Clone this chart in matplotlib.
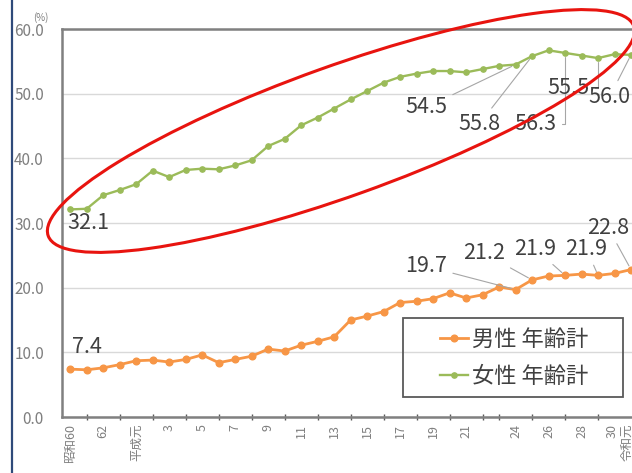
import matplotlib
matplotlib.use("Agg")
import matplotlib.pyplot as plt
from matplotlib.patches import Ellipse, Rectangle
from matplotlib.lines import Line2D
from matplotlib.transforms import IdentityTransform, ScaledTranslation

plt.rcParams['font.family'] = ['Noto Sans CJK JP', 'DejaVu Sans']

# 非正規雇用の割合 (%)、昭和60年〜令和元年
years = list(range(1985, 2020))
male = [7.4, 7.3, 7.6, 8.1, 8.7, 8.8, 8.5, 8.9, 9.6, 8.4,
        8.9, 9.4, 10.5, 10.2, 11.1, 11.7, 12.4, 15.0, 15.6, 16.3,
        17.7, 17.9, 18.3, 19.2, 18.4, 18.9, 20.1, 19.7, 21.2, 21.8,
        21.9, 22.1, 21.9, 22.2, 22.8]
female = [32.1, 32.2, 34.3, 35.1, 36.0, 38.1, 37.1, 38.2, 38.4, 38.3,
          38.9, 39.7, 41.9, 43.0, 45.1, 46.3, 47.7, 49.1, 50.4, 51.7,
          52.6, 53.1, 53.5, 53.5, 53.3, 53.8, 54.3, 54.5, 55.8, 56.7,
          56.3, 55.9, 55.5, 56.1, 56.0]
series_names = ['男性 年齢計', '女性 年齢計']

tick_years = [1985, 1987, 1989, 1991, 1993, 1995, 1997, 1999, 2001, 2003,
              2005, 2007, 2009, 2012, 2014, 2016, 2018, 2019]
tick_labels = ['昭和60', '62', '平成元', '3', '5', '7', '9', '11', '13', '15',
               '17', '19', '21', '24', '26', '28', '30', '令和元']

# labelled points: (year, text position x, text position y, connector style)
female_labels = [(1985, 1986.1, 30.0, None),
                 (2012, 2006.6, 47.9, 'arc3'),
                 (2013, 2009.8, 45.3, 'arc3'),
                 (2015, 2013.2, 45.3, 'angle,angleA=0,angleB=90,rad=0'),
                 (2017, 2015.2, 50.8, 'angle,angleA=0,angleB=90,rad=0'),
                 (2019, 2017.7, 49.5, 'arc3')]
male_labels = [(1985, 1986.0, 10.8, None),
               (2012, 2006.6, 23.3, 'arc3'),
               (2013, 2010.1, 25.3, 'arc3'),
               (2015, 2013.2, 26.0, 'arc3'),
               (2017, 2016.3, 26.0, 'arc3'),
               (2019, 2017.6, 29.3, 'arc3')]

orange = '#F79646'
green = '#9BBB59'
label_col = '#404040'
axis_col = '#7F7F7F'

W, H = 632, 473
fig = plt.figure(figsize=(W / 100, H / 100), dpi=100)
fig.patch.set_facecolor('white')
ax = fig.add_axes([62 / W, 56 / H, 602 / W, 388 / H])

ax.plot(years, male, color=orange, lw=2.0, marker='o', ms=4.8,
        label=series_names[0], zorder=3)
ax.plot(years, female, color=green, lw=1.7, marker='o', ms=3.8,
        label=series_names[1], zorder=3)

ax.set_xlim(1984.5, 2021.0)
ax.set_ylim(0, 60)
ax.set_yticks(range(0, 61, 10))
ax.set_yticklabels([f'{v:.1f}' for v in range(0, 61, 10)])
ax.grid(axis='y', color='#D9D9D9', lw=1.0, zorder=0)
ax.set_axisbelow(True)

ax.set_xticks(tick_years)
ax.set_xticklabels(tick_labels, rotation=90, va='top', ha='center')
ax.set_xticks(years, minor=True)
ax.tick_params(axis='x', which='major', length=0, pad=5,
               labelsize=9, labelcolor=axis_col)
ax.tick_params(axis='x', which='minor', length=4, width=1,
               direction='inout', color='#595959')
ax.tick_params(axis='y', length=0, pad=13, labelsize=11,
               labelcolor=axis_col)

# the last two year labels crowd the right edge; nudge them inwards
for lab, shift_px in zip(ax.get_xticklabels()[-2:], (-2, -4.5)):
    lab.set_transform(lab.get_transform()
                      + ScaledTranslation(shift_px / 100, 0,
                                          fig.dpi_scale_trans))

for side in ['left', 'bottom', 'top']:
    ax.spines[side].set_color('#808080')
    ax.spines[side].set_linewidth(1.8)
ax.spines['right'].set_visible(False)

ax.text(-0.035, 1.03, '(%)', transform=ax.transAxes, fontsize=7,
        color=axis_col, ha='center', va='center')


def label_points(values, specs):
    for yr, tx, ty, style in specs:
        v = values[years.index(yr)]
        if style is None:
            ax.text(tx, ty, f'{v:.1f}', fontsize=15.5, color=label_col,
                    ha='center', va='center', zorder=4)
        else:
            ax.annotate(f'{v:.1f}', xy=(yr, v), xytext=(tx, ty),
                        fontsize=15.5, color=label_col, ha='center',
                        va='center', zorder=4,
                        arrowprops=dict(arrowstyle='-', color='#A6A6A6',
                                        lw=0.8, shrinkA=2, shrinkB=3,
                                        connectionstyle=style))


label_points(female, female_labels)
label_points(male, male_labels)

# legend box, then entries placed inside it
ax.add_patch(Rectangle((0.566, 0.0515), 0.366, 0.204, transform=ax.transAxes,
                       fill=False, edgecolor='#595959', lw=1.3, zorder=5))
leg = ax.legend(loc='center left', bbox_to_anchor=(0.628, 0.153),
                fontsize=16, handlelength=1.25, handletextpad=0.2,
                borderpad=0, labelspacing=0.63, borderaxespad=0,
                frameon=False)
leg.set_zorder(6)
for t in leg.get_texts():
    t.set_color(label_col)

# highlight ring around the female series
fig.add_artist(Ellipse((341, H - 131), 622, 130, angle=19.7,
                       transform=IdentityTransform(), fill=False,
                       edgecolor='#E8140F', lw=2.2, zorder=10))
# page border on the left
fig.add_artist(Line2D([12 / W, 12 / W], [0, 1], transform=fig.transFigure,
                      color='#2F4A7A', lw=1.6))

fig.savefig('out.png', dpi=100)
